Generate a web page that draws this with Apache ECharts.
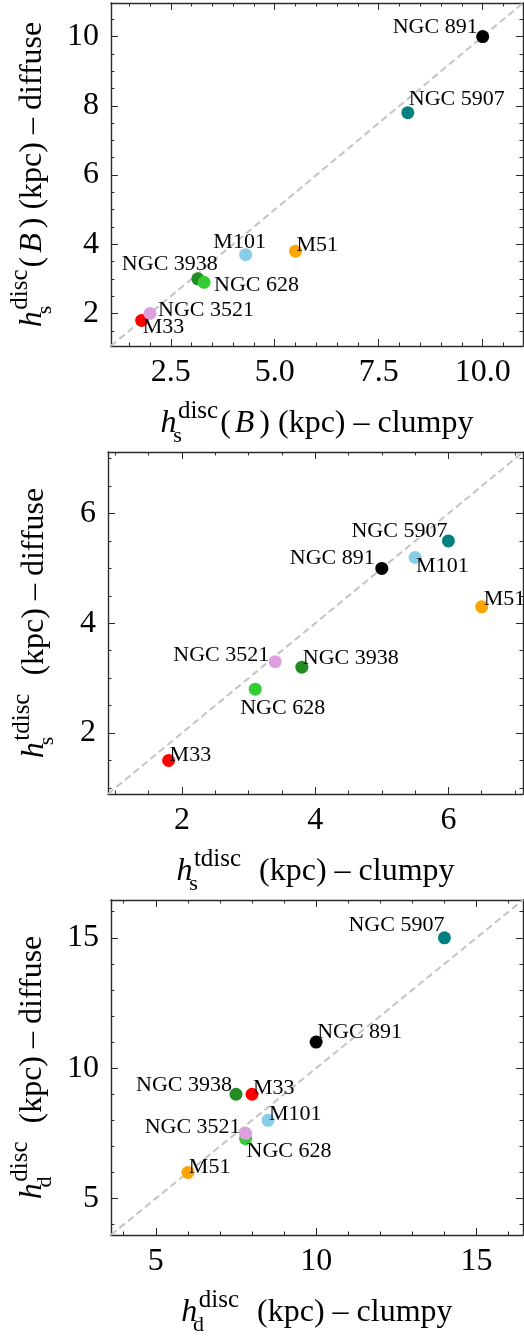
<!DOCTYPE html>
<html>
<head>
<meta charset="utf-8">
<script src="https://cdn.jsdelivr.net/npm/echarts@6/dist/echarts.min.js"></script>
<style>
html,body{margin:0;padding:0;background:#fff;}
#chart{width:524px;height:1337px;}
</style>
</head>
<body>
<div id="chart"></div>
<script>
// ---------------- data ----------------
const galaxies = ['M33', 'M51', 'M101', 'NGC 891', 'NGC 3938', 'NGC 628', 'NGC 3521', 'NGC 5907'];

// panel 1 : h_s^disc(B)
const p1Clumpy  = [1.8, 5.5, 4.3, 10.0, 3.15, 3.3, 2.0, 8.2];
const p1Diffuse = [1.8, 3.8, 3.7, 10.0, 3.0, 2.9, 2.0, 7.8];
// panel 2 : h_s^tdisc
const p2Clumpy  = [1.8, 6.5, 5.5, 5.0, 3.8, 3.1, 3.4, 6.0];
const p2Diffuse = [1.5, 4.3, 5.2, 5.0, 3.2, 2.8, 3.3, 5.5];
// panel 3 : h_d^disc
const p3Clumpy  = [8.0, 6.0, 8.5, 10.0, 7.5, 7.8, 7.8, 14.0];
const p3Diffuse = [9.0, 6.0, 8.0, 11.0, 9.0, 7.3, 7.5, 15.0];

// axis ranges (same for x and y in each panel)
const p1Range = [1.06, 10.97];
const p2Range = [0.89, 7.12];
const p3Range = [3.6, 16.45];

// tick values and labels
const p1XTicks = [2.5, 5.0, 7.5, 10.0];
const p1XTickLabels = ['2.5', '5.0', '7.5', '10.0'];
const p1YTicks = [2, 4, 6, 8, 10];
const p1YTickLabels = ['2', '4', '6', '8', '10'];
const p2Ticks = [2, 4, 6];
const p2TickLabels = ['2', '4', '6'];
const p3Ticks = [5, 10, 15];
const p3TickLabels = ['5', '10', '15'];

// ---------------- styles ----------------
const colors = ['#ff0000', '#ffa500', '#87ceeb', '#000000', '#228b22', '#32cd32', '#dda0dd', '#008080'];
// label placement per galaxy: [align, dx, dy] relative to marker centre (cap-centre of text)
const p1Lab = [['left', 1, 7], ['left', 1, -5.5], ['center', -6, -12], ['right', -5, -9], ['right', 20, -15], ['left', 10, 2.5], ['left', 8, -3], ['left', 1, -13]];
const p2Lab = [['left', 1, -5.6], ['left', 2, -7.5], ['left', 1, 9.3], ['right', -7, -10], ['left', 1, -9], ['left', -15, 19], ['right', -6, -6.3], ['right', -1, -9.4]];
const p3Lab = [['left', 1, -6], ['left', 1, -5.7], ['left', 1, -6], ['left', 1, -9.6], ['right', -4, -9.4], ['left', 1, 13], ['right', -5, -6], ['right', 0, -12.7]];

const SERIF = '"Liberation Serif", "Times New Roman", serif';
const AX = '#2a2a2a';
const TICK_FS = 32;
const LAB_FS = 22;

const grids = [
  {left: 108, top: 3, right: 1, height: 343},
  {left: 108, top: 452, right: 1, height: 342},
  {left: 108, top: 900, right: 1, height: 342}
];

const rich = {
  h: {fontFamily: SERIF, fontSize: 32, fontStyle: 'italic', color: '#000', padding: [0, 1, 0, 0]},
  i: {fontFamily: SERIF, fontSize: 32, fontStyle: 'italic', color: '#000', padding: [0, 5, 0, 4]},
  r: {fontFamily: SERIF, fontSize: 32, color: '#000'},
  sub: {fontFamily: SERIF, fontSize: 22, color: '#000', padding: [24, 0, 0, 0], width: 0.5},
  sup: {fontFamily: SERIF, fontSize: 25, color: '#000', padding: [0, 2, 25, 0]}
};

function minorVals(range, step, majors) {
  const out = [];
  const start = Math.ceil(range[0] / step - 1e-9);
  for (let k = start; k * step <= range[1] + 1e-9; k++) {
    const v = +(k * step).toFixed(6);
    if (!majors.some(m => Math.abs(m - v) < 1e-6)) out.push(v);
  }
  return out;
}

const xAxes = [], yAxes = [];
function addAxes(list, dim, gi, range, majors, labels, minorStep, name, nameGap) {
  const isX = dim === 'x';
  const posMain = isX ? 'bottom' : 'left';
  const posOpp = isX ? 'top' : 'right';
  const minors = minorVals(range, minorStep, majors);
  const base = {
    type: 'value', gridIndex: gi, min: range[0], max: range[1],
    splitLine: {show: false}, minorTick: {show: false}, minorSplitLine: {show: false}
  };
  list.push(Object.assign({}, base, {
    position: posMain,
    axisLine: {show: true, onZero: false, lineStyle: {color: AX, width: 1.4}},
    axisTick: {show: true, inside: true, length: 7, lineStyle: {color: AX, width: 1}, customValues: majors},
    axisLabel: {
      show: true, customValues: majors, margin: isX ? 11 : 12,
      fontFamily: SERIF, fontSize: TICK_FS, color: '#000',
      formatter: v => { const i = majors.findIndex(m => Math.abs(m - v) < 1e-6); return i >= 0 ? labels[i] : ''; }
    },
    name: name, nameLocation: 'middle', nameGap: nameGap,
    nameTextStyle: {rich: rich}
  }));
  list.push(Object.assign({}, base, {
    position: posMain,
    axisLine: {show: false, onZero: false},
    axisTick: {show: true, inside: true, length: 3.5, lineStyle: {color: AX, width: 1}, customValues: minors},
    axisLabel: {show: false}
  }));
  list.push(Object.assign({}, base, {
    position: posOpp,
    axisLine: {show: true, onZero: false, lineStyle: {color: AX, width: 1.4}},
    axisTick: {show: true, inside: true, length: 7, lineStyle: {color: AX, width: 1}, customValues: majors},
    axisLabel: {show: false}
  }));
  list.push(Object.assign({}, base, {
    position: posOpp,
    axisLine: {show: false, onZero: false},
    axisTick: {show: true, inside: true, length: 3.5, lineStyle: {color: AX, width: 1}, customValues: minors},
    axisLabel: {show: false}
  }));
}

const names = [
  {x: '{h|h}{sub|s}{sup|disc}{r|(}{i|B}{r|) (kpc) – clumpy}', y: '{h|h}{sub|s}{sup|disc}{r|(}{i|B}{r|) (kpc) – diffuse}'},
  {x: '{h|h}{sub|s}{sup|tdisc}{r|  (kpc) – clumpy}', y: '{h|h}{sub|s}{sup|tdisc}{r|  (kpc) – diffuse}'},
  {x: '{h|h}{sub|d}{sup|disc}{r|  (kpc) – clumpy}', y: '{h|h}{sub|d}{sup|disc}{r|  (kpc) – diffuse}'}
];

addAxes(xAxes, 'x', 0, p1Range, p1XTicks, p1XTickLabels, 0.5, names[0].x, 53);
addAxes(yAxes, 'y', 0, p1Range, p1YTicks, p1YTickLabels, 0.5, names[0].y, 48);
addAxes(xAxes, 'x', 1, p2Range, p2Ticks, p2TickLabels, 0.5, names[1].x, 53);
addAxes(yAxes, 'y', 1, p2Range, p2Ticks, p2TickLabels, 0.5, names[1].y, 48);
addAxes(xAxes, 'x', 2, p3Range, p3Ticks, p3TickLabels, 1, names[2].x, 53);
addAxes(yAxes, 'y', 2, p3Range, p3Ticks, p3TickLabels, 1, names[2].y, 48);

const panels = [
  {cx: p1Clumpy, cy: p1Diffuse, range: p1Range, lab: p1Lab},
  {cx: p2Clumpy, cy: p2Diffuse, range: p2Range, lab: p2Lab},
  {cx: p3Clumpy, cy: p3Diffuse, range: p3Range, lab: p3Lab}
];

const series = [];
panels.forEach((p, pi) => {
  series.push({
    type: 'line', xAxisIndex: pi * 4, yAxisIndex: pi * 4,
    data: [[p.range[0], p.range[0]], [p.range[1], p.range[1]]],
    symbol: 'none', silent: true, z: 1,
    lineStyle: {color: '#c4c4c4', width: 2, type: [7, 4]}
  });
  series.push({
    type: 'scatter', xAxisIndex: pi * 4, yAxisIndex: pi * 4, z: 3,
    symbolSize: 13,
    data: galaxies.map((g, i) => ({
      name: g,
      value: [p.cx[i], p.cy[i]],
      itemStyle: {color: colors[i], opacity: 1},
      label: {
        show: true, position: 'inside', formatter: g,
        align: p.lab[i][0], verticalAlign: 'middle',
        offset: [p.lab[i][1], p.lab[i][2]],
        fontFamily: SERIF, fontSize: LAB_FS, color: '#000'
      }
    }))
  });
});

const chart = echarts.init(document.getElementById('chart'), null, {renderer: 'canvas'});
chart.setOption({
  animation: false,
  backgroundColor: '#fff',
  grid: grids,
  xAxis: xAxes,
  yAxis: yAxes,
  series: series
});
</script>
</body>
</html>
